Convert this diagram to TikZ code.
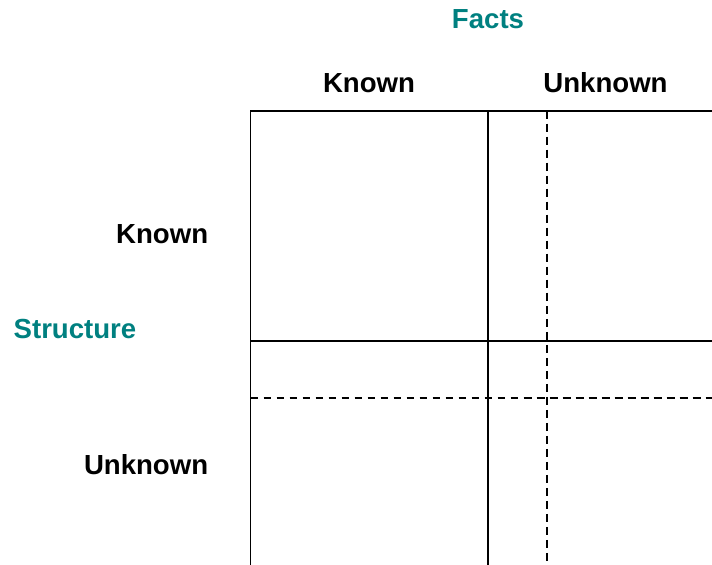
\documentclass[tikz,border=0pt]{standalone}
\usepackage{fontspec}
\setmainfont{Liberation Sans}
\usepackage{tikz}
\usetikzlibrary{positioning, calc}

\definecolor{axisteal}{RGB}{0,128,128}

\begin{document}
\begin{tikzpicture}[
    % Styling
    head text/.style={
        font=\fontsize{15.7}{19}\selectfont\bfseries,
        anchor=base,
        inner sep=0pt
    },
    axis text/.style={
        head text,
        text=axisteal
    },
    grid line/.style={
        line width=1.1pt
    },
    split line/.style={
        line width=1.1pt,
        dash pattern=on 4.5pt off 2.9pt
    }
]
\useasboundingbox (0,0) rectangle (14.24,11.3);

% --- Grid corners ---
\coordinate (tl) at (5.01, 9.086);
\coordinate (tm) at (9.76, 9.086);
\coordinate (tr) at (14.24, 9.086);
\coordinate (bl) at (5.01, 0);
\coordinate (bm) at (9.76, 0);
\coordinate (ml) at (5.01, 4.486);
\coordinate (mr) at (14.24, 4.486);

% split lines inside the unknown parts
\coordinate (sv-top) at (10.94, 9.086);
\coordinate (sv-bot) at (10.94, 0);
\coordinate (sh-left) at (5.01, 3.34);
\coordinate (sh-right) at (14.24, 3.34);

% --- Solid grid ---
\draw[grid line] (bl) -- (tl) -- (tr);
\draw[grid line] (bm) -- (tm);
\draw[grid line] (ml) -- (mr);

% --- Dashed splits ---
\draw[split line] (sv-top) -- (sv-bot);
\draw[split line] (sh-left) -- (sh-right);

% --- Column headings ---
\node[axis text] (facts) at (9.76, 10.734) {Facts};
\node[head text] (col-known) at (7.38, 9.454) {Known};
\node[head text] (col-unknown) at (12.11, 9.454) {Unknown};

% --- Row headings ---
\node[axis text] (structure) at (1.5, 4.52) {Structure};
\node[head text, anchor=base east] (row-known) at (4.17, 6.434) {Known};
\node[head text, anchor=base east] (row-unknown) at (4.17, 1.8) {Unknown};

\end{tikzpicture}
\end{document}
